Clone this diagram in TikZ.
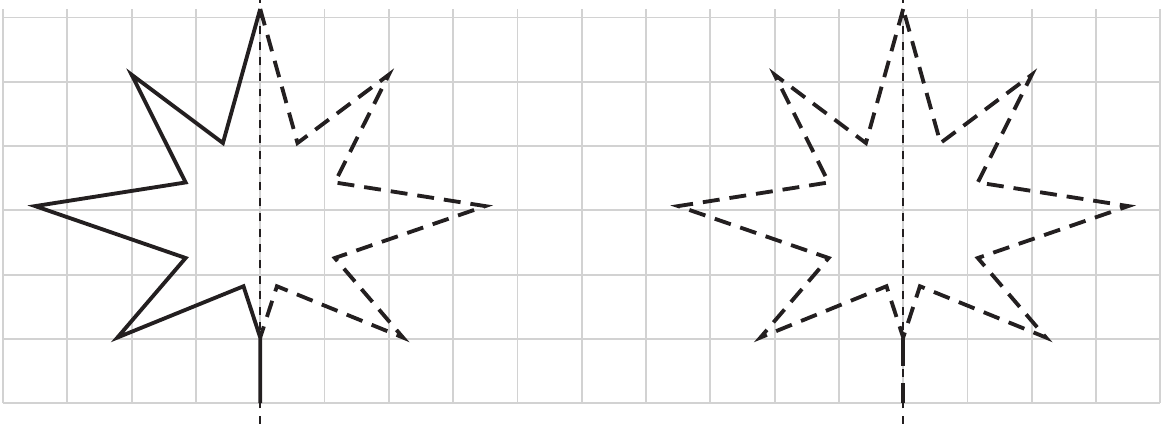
\documentclass[tikz,border=0pt]{standalone}
\definecolor{ink}{RGB}{35,31,32}
\definecolor{paper}{RGB}{210,210,210}
\begin{document}
\begin{tikzpicture}[x=1cm,y=1.0218cm,
    paperline/.style={draw=paper,line width=0.8pt},
    axisline/.style={draw=ink,line width=0.9pt,dash pattern=on 3.5pt off 3.4pt},
    halfline/.style={draw=ink,line width=1.7pt,line join=miter},
    mirrorline/.style={draw=ink,line width=1.7pt,line join=miter,dash pattern=on 7.5pt off 4.4pt},
    stemline/.style={draw=ink,line width=1.7pt,dash pattern=on 12.8pt off 7.5pt}]
  \useasboundingbox (-0.047,-0.315) rectangle (18.056,6.137);
  \draw[paperline] (0,0) grid (18,6);
  % left figure
  \coordinate (la) at (4,6.137);
  \coordinate (lb) at (4,-0.315);
  \draw[axisline] (lb) -- (la);
  \draw[halfline]
    (4,0) coordinate (l0)
    -- (4,1) coordinate (l1)
    -- (3.74,1.78) coordinate (l2)
    -- (1.78,1) coordinate (l3)
    -- (2.84,2.21) coordinate (l4)
    -- (0.5,3) coordinate (l5)
    -- (2.84,3.36) coordinate (l6)
    -- (2,5) coordinate (l7)
    -- (3.42,3.96) coordinate (l8)
    -- (4,6) coordinate (l9);
  \draw[mirrorline]
    (l9)
    -- (4.58,3.96) coordinate (r8)
    -- (6,5) coordinate (r7)
    -- (5.16,3.36) coordinate (r6)
    -- (7.5,3) coordinate (r5)
    -- (5.16,2.21) coordinate (r4)
    -- (6.22,1) coordinate (r3)
    -- (4.26,1.78) coordinate (r2)
    -- (l1);
  % right figure
  \coordinate (ra) at (14,6.137);
  \coordinate (rb) at (14,-0.315);
  \draw[axisline] (rb) -- (ra);
  \draw[mirrorline]
    (14,6) coordinate (s9)
    -- (13.42,3.96) coordinate (s8)
    -- (12,5) coordinate (s7)
    -- (12.84,3.36) coordinate (s6)
    -- (10.5,3) coordinate (s5)
    -- (12.84,2.21) coordinate (s4)
    -- (11.78,1) coordinate (s3)
    -- (13.74,1.78) coordinate (s2)
    -- (14,1) coordinate (s1)
    -- (14.26,1.78) coordinate (t2)
    -- (16.22,1) coordinate (t3)
    -- (15.16,2.21) coordinate (t4)
    -- (17.5,3) coordinate (t5)
    -- (15.16,3.36) coordinate (t6)
    -- (16,5) coordinate (t7)
    -- (14.58,3.96) coordinate (t8)
    -- cycle;
  \coordinate (s0) at (14,0);
  \draw[stemline] (s1) -- (s0);
\end{tikzpicture}
\end{document}
